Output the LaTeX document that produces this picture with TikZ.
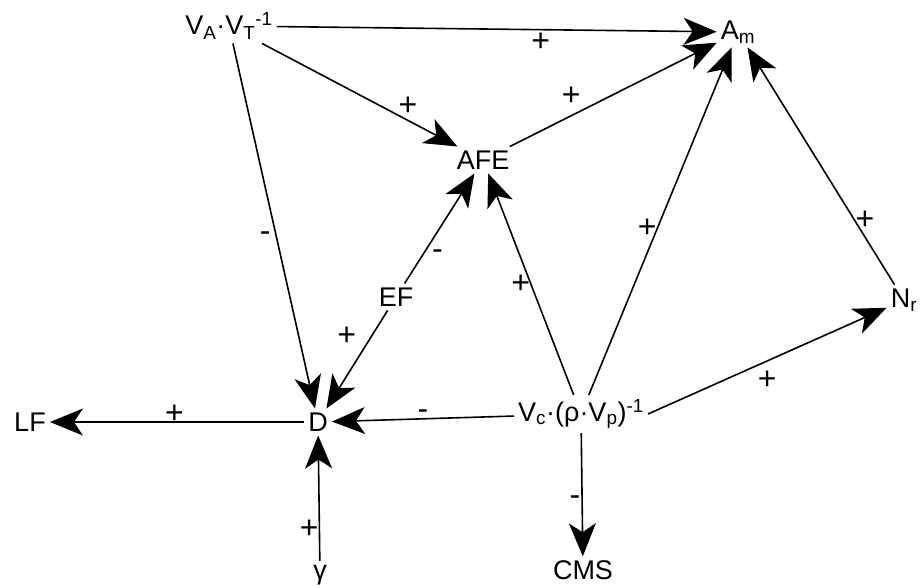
\documentclass[tikz,border=0pt]{standalone}
\usepackage{fontspec}
\setmainfont{Liberation Sans}
\usetikzlibrary{arrows.meta}

\begin{document}
\begin{tikzpicture}[x=1pt,y=-1pt]
        \tikzset{var/.style={font=\fontsize{27}{30}\selectfont, inner sep=4pt}}
        \tikzset{link/.style={line width=1.6pt, -{Stealth[length=33pt,width=27pt,inset=9pt]}}}
        \tikzset{sign/.style={font=\fontsize{32}{34}\selectfont, inner sep=1pt}}

        \useasboundingbox (0,0) rectangle (920,587);

        \node[var] (va) at (229,26) {V\textsubscript{A}·V\textsubscript{T}\textsuperscript{-1}};
        \node[var] (am) at (738,32) {A\textsubscript{m}};
        \node[var] (afe) at (483,160) {AFE};
        \node[var] (ef) at (396,297) {EF};
        \node[var] (nr) at (904,300) {N\textsubscript{r}};
        \node[var] (d) at (318,422) {D};
        \node[var] (lf) at (30,422) {LF};
        \node[var] (vc) at (581,414) {V\textsubscript{c}·(ρ·V\textsubscript{p})\textsuperscript{-1}};
        \node[var] (gam) at (320,575) {γ};
        \node[var] (cms) at (583,570) {CMS};

        \draw[link] (va) -- (am) node[sign, pos=0.6, below=2pt] {+};
        \draw[link] (va) -- (afe) node[sign, pos=0.7, above right=-2pt] {+};
        \draw[link] (va) -- (d) node[sign, pos=0.53, left=4pt] {-};
        \draw[link] (afe) -- (am) node[sign, pos=0.36, above left=2pt] {+};
        \draw[link] (vc) -- (afe) node[sign, pos=0.5, left=-1pt] {+};
        \draw[link] (vc) -- (am) node[sign, pos=0.48, left=-1pt] {+};
        \draw[link] (nr) -- (am) node[sign, pos=0.27, right=-1pt] {+};
        \draw[link] (vc.east) -- (nr) node[sign, pos=0.5, below=8pt] {+};
        \draw[link] (vc) -- (d) node[sign, pos=0.5, above=-2pt] {-};
        \draw[link] (vc) -- (cms) node[sign, pos=0.55, left] {-};
        \draw[link] (ef) -- (afe) node[sign, pos=0.34, below right=2pt] {-};
        \draw[link] (ef) -- (d) node[sign, pos=0.42, above left=4pt] {+};
        \draw[link] (d) -- (lf) node[sign, pos=0.51, above=-3pt] {+};
        \draw[link] (gam) -- (d) node[sign, pos=0.25, left=-1pt] {+};
    \end{tikzpicture}
\end{document}
